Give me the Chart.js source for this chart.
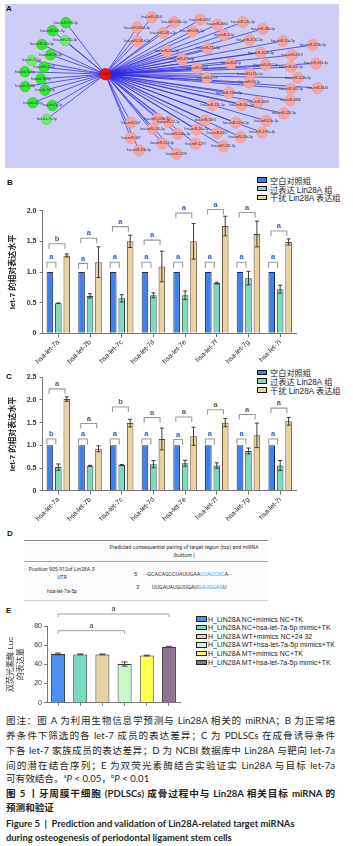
<!DOCTYPE html>
<html lang="zh">
<head>
<meta charset="utf-8">
<script src="https://cdn.jsdelivr.net/npm/chart.js@4.4.1/dist/chart.umd.min.js"></script>
<style>
html,body{margin:0;padding:0;background:#fff;}
body{width:353px;height:846px;position:relative;overflow:hidden;font-family:"Liberation Sans","Noto Sans CJK SC",sans-serif;color:#222;}
.abs{position:absolute;}
canvas{position:absolute;}
.plabel{position:absolute;font:bold 8px "Liberation Sans",sans-serif;color:#111;line-height:8px;}
.lg{position:absolute;left:257px;font-family:"Liberation Sans","Noto Sans CJK SC",sans-serif;font-size:8.2px;color:#222;white-space:nowrap;}
.lg .row{height:8.7px;display:flex;align-items:center;}
.lg .sw{display:inline-block;width:8px;height:3.6px;border:1.3px solid #222;margin-right:3px;flex:none;}
.lgE{position:absolute;left:196px;font-family:"Liberation Sans",sans-serif;font-size:7px;color:#222;white-space:nowrap;}
.lgE .row{height:8.66px;display:flex;align-items:center;}
.lgE .sw{display:inline-block;width:8.5px;height:3.4px;border:1.2px solid #222;margin-right:1.5px;flex:none;}
.rule{position:absolute;left:24px;width:244px;height:0;}
.tsmall{position:absolute;font-family:"Roboto","Liberation Sans",sans-serif;font-size:5.2px;line-height:7.5px;color:#333;white-space:nowrap;}
.seq{position:absolute;font-family:"Roboto","Liberation Sans",sans-serif;font-size:5.4px;line-height:7px;color:#333;white-space:nowrap;}
.seq .hl{color:#39A9E6;}
.cap{position:absolute;left:6px;width:329px;font-family:"Lato","Noto Sans CJK SC",sans-serif;font-size:9.6px;line-height:13px;color:#231f20;}
.just{text-align:justify;text-align-last:justify;}
.bold{font-weight:bold;}
sup{font-size:6px;line-height:0;}
</style>
</head>
<body>
<script>
// ================= DATA =================
// Panel A (network, node coordinates in panel units)
const hubNode = [308, 220];
const hubLabel = 'Lin28A';
const greenNodes = [[185,52],[143,78],[110,123],[137,157],[117,197],[57,212],[107,235],[58,260],[120,272],[82,313],[143,322]];
const greenLabels = ['hsa-miR-590-5p','hsa-miR-361-3p','hsa-miR-500-5p','hsa-miR-98-5p','hsa-miR-4458','hsa-let-7a-5p','hsa-let-7b-5p','hsa-let-7c-5p','hsa-let-7d-5p','hsa-let-7f-5p','hsa-let-7g-5p'];
const paleGreenNodes = [[183,110],[78,175],[125,367]];
const paleGreenLabels = ['hsa-miR-500-3p','hsa-let-7i-5p','hsa-let-7e-5p'];
const pinkNodes = [[453,35],[407,68],[523,50],[604,42],[657,58],[737,50],[800,72],[489,85],[579,80],[678,92],
  [408,113],[758,108],[862,112],[955,125],[500,145],[628,136],[793,150],[890,158],[548,172],[700,185],
  [594,200],[808,190],[887,197],[965,185],[760,218],[625,232],[909,232],[757,247],[887,268],[970,265],
  [693,280],[643,320],[733,320],[785,310],[885,305],[865,348],[810,372],[470,365],[505,375],[620,370],
  [388,378],[455,398],[593,400],[715,378],[533,415],[657,412],[730,425],[797,410],[388,428],[485,445],
  [590,447],[676,455],[413,468],[530,480]];
const pinkLabels = ['hsa-miR-4500','hsa-miR-320a-3p','hsa-miR-196a-5p','hsa-miR-4262','hsa-miR-4660','hsa-miR-23c-5p','hsa-miR-33b-5p','hsa-miR-181a-5p','hsa-miR-30b-5p','hsa-miR-9-5p',
  'hsa-miR-181d-5p','hsa-miR-3132-5p','hsa-miR-15a-5p','hsa-miR-125b-5p','hsa-miR-26a-5p','hsa-miR-212-3p','hsa-miR-302b-3p','hsa-miR-4319','hsa-miR-370-3p','hsa-miR-8-5p',
  'hsa-miR-4458','hsa-miR-497-5p','hsa-miR-155-5p','hsa-miR-363-3p','hsa-miR-125a-5p','hsa-miR-4739','hsa-miR-106b-5p','hsa-miR-93-5p','hsa-miR-367-3p','hsa-miR-4644',
  'hsa-miR-130a-3p','hsa-miR-132-3p','hsa-miR-30c-5p','hsa-miR-5683','hsa-miR-4486','hsa-miR-128-3p','hsa-miR-19a-3p','hsa-miR-520e-3p','hsa-miR-17-5p','hsa-miR-1305',
  'hsa-miR-507','hsa-miR-143-3p','hsa-miR-20a-5p','hsa-miR-519d-3p','hsa-miR-548c-3p','hsa-miR-4317','hsa-miR-20b-5p','hsa-miR-199a-3p','hsa-miR-367','hsa-miR-124-3p',
  'hsa-miR-1297','hsa-miR-141-3p','hsa-miR-19b-3p','hsa-miR-1299'];

// Panels B / C
const categories = ['hsa-let-7a','hsa-let-7b','hsa-let-7c','hsa-let-7d','hsa-let-7e','hsa-let-7f','hsa-let-7g','hsa-let-7i'];
const seriesNames = ['空白对照组','过表达 Lin28A 组','干扰 Lin28A 表达组'];
const bTicks = [0, 0.5, 1.0, 1.5, 2.0];
const bControl = [1,1,1,1,1,1,1,1];
const bOver = [0.49,0.61,0.57,0.62,0.62,0.82,0.90,0.72];
const bOverErr = [0.005,0.035,0.06,0.04,0.07,0.015,0.11,0.065];
const bKnock = [1.27,1.16,1.50,1.09,1.50,1.75,1.62,1.49];
const bKnockErr = [0.025,0.25,0.10,0.25,0.29,0.16,0.21,0.05];
const bSmallBracket = [1.16,1.14,1.16,1.16,1.16,1.16,1.16,1.16];
const bSmallSig = ['a','a','a','a','a','a','a','a'];
const bBigBracket = [1.46,1.55,1.74,1.52,1.96,2.02,1.97,1.67];
const bBigSig = ['b','a','a','a','a','a','a','a'];

const cTicks = [0, 0.5, 1.0, 1.5, 2.0, 2.5];
const cControl = [1,1,1,1,1,1,1,1];
const cOver = [0.52,0.55,0.565,0.585,0.605,0.555,0.875,0.555];
const cOverErr = [0.07,0.01,0.012,0.08,0.065,0.06,0.065,0.11];
const cKnock = [2.02,0.925,1.49,1.14,1.20,1.50,1.22,1.53];
const cKnockErr = [0.05,0.065,0.085,0.24,0.20,0.09,0.27,0.085];
const cSmallBracket = [1.14,1.14,1.14,1.14,1.13,1.14,1.14,1.14];
const cSmallSig = ['b','a','a','a','a','a','a','a'];
const cBigBracket = [2.245,1.48,1.845,1.61,1.625,1.785,1.68,1.82];
const cBigSig = ['a','a','b','a','a','a','a','a'];

// Panel E
const eGroups = ['H_LIN28A NC+mimics NC+TK','H_LIN28A NC+hsa-let-7a-5p mimic+TK','H_LIN28A WT+mimics NC+24 32','H_LIN28A WT+hsa-let-7a-5p mimics+TK','H_LIN28A MT+mimics NC+TK','H_LIN28A MT+hsa-let-7a-5p mimic+TK'];
const eValues = [50.8,50.4,50.4,40.3,49.2,58.2];
const eErrors = [0.9,0.4,0.4,2.2,0.4,0.6];
const eTicks = [0,20,40,60,80];
const eBrackets = [[0,5,92.5,'a'],[0,3,75.1,'a']];

// ================= STYLES =================
const barColors = ['#3F80EE','#7ADBC1','#E8D3A1'];
const barBorders = ['#1d2b55','#2c4a42','#5a4a2e'];
const eColors = ['#4A90F4','#78DCC1','#E6D3A3','#C9F7C9','#FFFF4D','#8D7591'];
const sigColorB = '#2F63B0';
const sigColorC = ['#2F63B0','#7a5530'];

// ================= PLUGINS =================
const errorBars = {
  id:'errorBars',
  afterDatasetsDraw(chart, args, o){
    if(!o || !o.sets) return;
    const ctx = chart.ctx, ys = chart.scales.y;
    ctx.save();
    ctx.strokeStyle = o.color || '#444'; ctx.lineWidth = o.width || 1;
    o.sets.forEach(s=>{
      const meta = chart.getDatasetMeta(s.ds);
      const vals = chart.data.datasets[s.ds].data;
      meta.data.forEach((bar,i)=>{
        const e = s.err[i]; if(e==null) return;
        const t = ys.getPixelForValue(vals[i]+e), b = ys.getPixelForValue(vals[i]-e);
        const c = o.cap || 2;
        ctx.beginPath();
        ctx.moveTo(bar.x,t); ctx.lineTo(bar.x,b);
        ctx.moveTo(bar.x-c,t); ctx.lineTo(bar.x+c,t);
        ctx.moveTo(bar.x-c,b); ctx.lineTo(bar.x+c,b);
        ctx.stroke();
      });
    });
    ctx.restore();
  }
};
const brackets = {
  id:'brackets',
  afterDatasetsDraw(chart, args, o){
    if(!o || !o.items) return;
    const ctx = chart.ctx, ys = chart.scales.y;
    ctx.save();
    o.items.forEach(it=>{
      const a = chart.getDatasetMeta(it.fs).data[it.fi];
      const b = chart.getDatasetMeta(it.ts).data[it.ti];
      const x1 = a.x + (it.dx1||0), x2 = b.x + (it.dx2||0);
      const y = ys.getPixelForValue(it.y);
      ctx.strokeStyle = o.lineColor || '#999'; ctx.lineWidth = o.lineWidth || 1.1;
      ctx.beginPath();
      ctx.moveTo(x1, y + (it.drop||5)); ctx.lineTo(x1, y); ctx.lineTo(x2, y); ctx.lineTo(x2, y + (it.drop||5));
      ctx.stroke();
      ctx.fillStyle = it.color || '#333';
      ctx.font = o.font || 'bold 7.5px "Liberation Sans"';
      ctx.textAlign = 'center'; ctx.textBaseline = 'bottom';
      ctx.fillText(it.text, (x1+x2)/2, y - (o.gap||1.5));
    });
    ctx.restore();
  }
};
const nodeLabels = {
  id:'nodeLabels',
  afterDatasetsDraw(chart, args, o){
    if(!o || !o.sets) return;
    const ctx = chart.ctx;
    ctx.save();
    ctx.font = '3.4px "Liberation Sans"'; ctx.fillStyle = '#333';
    ctx.textAlign='center'; ctx.textBaseline='middle';
    o.sets.forEach(s=>{
      chart.getDatasetMeta(s.ds).data.forEach((p,i)=>{ ctx.fillText(s.labels[i], p.x, p.y); });
    });
    ctx.restore();
  }
};
Chart.register(errorBars, brackets, nodeLabels);
Chart.defaults.font.family = '"Liberation Sans","Noto Sans CJK SC",sans-serif';
Chart.defaults.animation = false;

function mk(id, left, top, w, h){
  const c = document.createElement('canvas');
  c.id = id; c.width = w; c.height = h;
  c.style.left = left+'px'; c.style.top = top+'px'; c.style.width = w+'px'; c.style.height = h+'px';
  document.body.appendChild(c);
  return c;
}
</script>

<!-- Panel A -->
<div class="abs" style="left:5px;top:4px;width:334px;height:164px;background:#CDCDF8;"></div>
<div class="plabel" style="left:6px;top:5px;">A</div>

<!-- Panel labels -->
<div class="plabel" style="left:7px;top:179px;">B</div>
<div class="plabel" style="left:6px;top:373px;">C</div>
<div class="plabel" style="left:7px;top:530px;">D</div>
<div class="plabel" style="left:6px;top:607px;">E</div>

<!-- Legends B / C -->
<div class="lg" id="lgB" style="top:175.6px;"></div>
<div class="lg" id="lgC" style="top:368px;"></div>
<div class="lgE" id="lgE" style="top:614.7px;"></div>

<!-- Panel D table -->
<div class="abs" style="left:24px;top:540px;width:244px;height:60px;background:#fbfbfb;"></div>
<div class="rule" style="top:540px;border-top:1px solid #8a8a8a;"></div>
<div class="tsmall" style="left:98px;top:544px;width:172px;text-align:center;">Predicted consequential pairing of target region (top) and miRNA<br>(bottom )</div>
<div class="rule" style="top:561px;border-top:1px solid #a8a8a8;"></div>
<div class="tsmall" style="left:22px;top:565px;width:80px;text-align:center;line-height:8px;">Position 905-912of Lin28A 3'<br>UTR</div>
<div class="seq" style="left:134px;top:570.5px;">5'</div>
<div class="seq" style="left:143px;top:570.5px;">···GCACAGCCUAUUGAA<span class="hl">CUACCUC</span>A···</div>
<div class="seq" style="left:136px;top:583.5px;">3'</div>
<div class="seq" style="left:152px;top:583.5px;">UUGAUAUGUUGAU<span class="hl">GAUGGAG</span>U</div>
<div class="tsmall" style="left:22px;top:587.5px;width:80px;text-align:center;">hsa-let-7a-5p</div>
<div class="rule" style="top:600px;border-top:1px solid #cfcfcf;"></div>

<!-- Caption -->
<div class="cap just" style="top:713.5px;">图注：图 A 为利用生物信息学预测与 Lin28A 相关的 miRNA；B 为正常培</div>
<div class="cap just" style="top:728.5px;">养条件下筛选的各 let-7 成员的表达差异；C 为 PDLSCs 在成骨诱导条件</div>
<div class="cap just" style="top:743.5px;">下各 let-7 家族成员的表达差异；D 为 NCBI 数据库中 Lin28A 与靶向 let-7a</div>
<div class="cap just" style="top:758.5px;">间的潜在结合序列；E 为双荧光素酶结合实验证实 Lin28A 与目标 let-7a</div>
<div class="cap" style="top:771.5px;">可有效结合。<sup>a</sup><i>P</i> &lt; 0.05，<sup>b</sup><i>P</i> &lt; 0.01</div>
<div class="cap just bold" style="top:786.5px;">图 5 丨牙周膜干细胞 (PDLSCs) 成骨过程中与 Lin28A 相关目标 miRNA 的</div>
<div class="cap bold" style="top:800.5px;">预测和验证</div>
<div class="cap bold" style="top:816.5px;font-size:9.4px;">Figure 5&nbsp; | &nbsp;Prediction and validation of Lin28A-related target miRNAs</div>
<div class="cap bold" style="top:830.5px;font-size:9.4px;">during osteogenesis of periodontal ligament stem cells</div>

<script>
// ---------- Panel A ----------
(function(){
  const cv = mk('chartA', 5, 4, 334, 164);
  const toPts = arr => arr.map(p=>({x:p[0], y:p[1]}));
  const hub = {x:hubNode[0], y:hubNode[1]};
  const lineSets = [...greenNodes, ...paleGreenNodes, ...pinkNodes].map(p=>({
    data:[hub, {x:p[0], y:p[1]}], showLine:true, pointRadius:0,
    borderColor:'rgba(40,40,220,0.9)', borderWidth:0.8, order:5
  }));
  new Chart(cv, {
    type:'scatter',
    data:{datasets:[
      {data:toPts(pinkNodes), pointRadius:5.6, backgroundColor:'#F5A5A0', borderColor:'#E59590', borderWidth:0.6, order:1},
      {data:toPts(greenNodes), pointRadius:5.3, backgroundColor:'#33E833', borderColor:'#2bc42b', borderWidth:0.6, order:1},
      {data:toPts(paleGreenNodes), pointRadius:5.3, backgroundColor:'#74EA74', borderColor:'#60d060', borderWidth:0.6, order:1},
      {data:[hub], pointRadius:5.8, backgroundColor:'#EE1010', borderColor:'#cc0000', borderWidth:0.6, order:0},
      ...lineSets
    ]},
    options:{
      responsive:false, devicePixelRatio:1, animation:false,
      layout:{padding:0},
      scales:{
        x:{type:'linear', min:15, max:1017, display:false},
        y:{type:'linear', min:12, max:505, reverse:true, display:false}
      },
      plugins:{legend:{display:false}, tooltip:{enabled:false},
        nodeLabels:{sets:[{ds:0, labels:pinkLabels},{ds:1, labels:greenLabels},{ds:2, labels:paleGreenLabels},{ds:3, labels:[hubLabel]}]}
      }
    }
  });
})();

// ---------- Panels B / C ----------
function legendHTML(el, names, colors, borders){
  el.innerHTML = names.map((n,i)=>`<div class="row"><span class="sw" style="background:${colors[i]};border-color:${borders[i]}"></span>${n}</div>`).join('');
}
legendHTML(document.getElementById('lgB'), seriesNames, barColors, ['#111','#111','#111']);
legendHTML(document.getElementById('lgC'), seriesNames, barColors, ['#111','#111','#111']);

function grouped(id, top, h, padTop, xH, ticks, ctrl, over, overErr, knock, knockErr, smallY, smallSig, bigY, bigSig, smallColors, bigColors){
  const cv = mk(id, 0, top, 353, h);
  const items = [];
  categories.forEach((c,i)=>{
    items.push({fs:0, fi:i, ts:1, ti:i, y:smallY[i], text:smallSig[i], dx1:-3, dx2:-2.5, drop:5.5, color:smallColors[i]});
    items.push({fs:0, fi:i, ts:2, ti:i, y:bigY[i], text:bigSig[i], dx1:-0.8, dx2:-1.8, drop:5, color:bigColors[i]});
  });
  return new Chart(cv, {
    type:'bar',
    data:{labels:categories, datasets:[
      {label:seriesNames[0], data:ctrl, backgroundColor:barColors[0], borderColor:barBorders[0], borderWidth:1},
      {label:seriesNames[1], data:over, backgroundColor:barColors[1], borderColor:barBorders[1], borderWidth:1},
      {label:seriesNames[2], data:knock, backgroundColor:barColors[2], borderColor:barBorders[2], borderWidth:1}
    ]},
    options:{
      responsive:false, devicePixelRatio:1, animation:false,
      layout:{padding:{left:0, right:57, top:padTop, bottom:0}},
      datasets:{bar:{categoryPercentage:0.8, barPercentage:0.78}},
      scales:{
        x:{
          afterFit:s=>{s.height = xH;},
          grid:{display:true, drawOnChartArea:false, offset:false, tickLength:4, color:'#777', lineWidth:1},
          border:{display:true, color:'#777', width:1},
          ticks:{autoSkip:false, minRotation:45, maxRotation:45, padding:1, color:'#222', font:{size:6.8}}
        },
        y:{
          min:ticks[0], max:ticks[ticks.length-1],
          afterFit:s=>{s.width = 42.5;},
          afterBuildTicks:s=>{s.ticks = ticks.map(v=>({value:v}));},
          grid:{display:true, drawOnChartArea:false, tickLength:3, color:'#777'},
          border:{display:true, color:'#777', width:1},
          ticks:{padding:3, color:'#333', font:{size:7, weight:'bold'}, callback:v=> v===0 ? '0' : v.toFixed(1)},
          title:{display:true, text:'let-7 的相对表达水平', color:'#222', font:{size:8, weight:'bold'}, padding:{top:8, bottom:0}}
        }
      },
      plugins:{
        legend:{display:false}, tooltip:{enabled:false},
        errorBars:{color:'#3a3a3a', width:1, cap:2, sets:[{ds:1, err:overErr},{ds:2, err:knockErr}]},
        brackets:{items, lineColor:'#9a9a9a', lineWidth:1.1, gap:1.2, font:'bold 7.5px "Liberation Sans"'}
      }
    }
  });
}
grouped('chartB', 170, 200, 40.7, 36.7, bTicks, bControl, bOver, bOverErr, bKnock, bKnockErr,
  bSmallBracket, bSmallSig, bBigBracket, bBigSig, categories.map(()=>sigColorB), categories.map(()=>sigColorB));
grouped('chartC', 345, 185, 32.3, 39.3, cTicks, cControl, cOver, cOverErr, cKnock, cKnockErr,
  cSmallBracket, cSmallSig, cBigBracket, cBigSig, categories.map(()=>sigColorC[0]), categories.map(()=>sigColorC[1]));

// ---------- Panel E ----------
(function(){
  const el = document.getElementById('lgE');
  el.innerHTML = eGroups.map((n,i)=>`<div class="row"><span class="sw" style="background:${eColors[i]}"></span>${n}</div>`).join('');
  const cv = mk('chartE', 0, 600, 190, 112);
  new Chart(cv, {
    type:'bar',
    data:{labels:eGroups, datasets:[{data:eValues, backgroundColor:eColors, borderColor:'#333', borderWidth:1}]},
    options:{
      responsive:false, devicePixelRatio:1, animation:false,
      layout:{padding:{left:0, right:10, top:26, bottom:0}},
      datasets:{bar:{categoryPercentage:0.8, barPercentage:0.79}},
      scales:{
        x:{
          afterFit:s=>{s.height = 9.3;},
          grid:{display:true, drawOnChartArea:false, offset:false, tickLength:3, color:'#777'},
          border:{display:true, color:'#777', width:1},
          ticks:{display:false}
        },
        y:{
          min:0, max:80,
          afterFit:s=>{s.width = 47;},
          afterBuildTicks:s=>{s.ticks = eTicks.map(v=>({value:v}));},
          grid:{display:true, drawOnChartArea:false, tickLength:3, color:'#777'},
          border:{display:true, color:'#777', width:1},
          ticks:{padding:2, color:'#333', font:{size:7}},
          title:{display:true, text:['双荧光素酶 Luc','的表达量'], color:'#333', font:{size:8, lineHeight:1.2}, padding:{top:6, bottom:0}}
        }
      },
      plugins:{
        legend:{display:false}, tooltip:{enabled:false},
        errorBars:{color:'#444', width:1, cap:3, sets:[{ds:0, err:eErrors}]},
        brackets:{items: eBrackets.map(b=>({fs:0, fi:b[0], ts:0, ti:b[1], y:b[2], text:b[3], dx1:0, dx2:0, drop:3, color:'#333'})),
          lineColor:'#a0a0a0', lineWidth:1, gap:1, font:'7.5px "Liberation Sans"'}
      }
    }
  });
})();
</script>
</body>
</html>
